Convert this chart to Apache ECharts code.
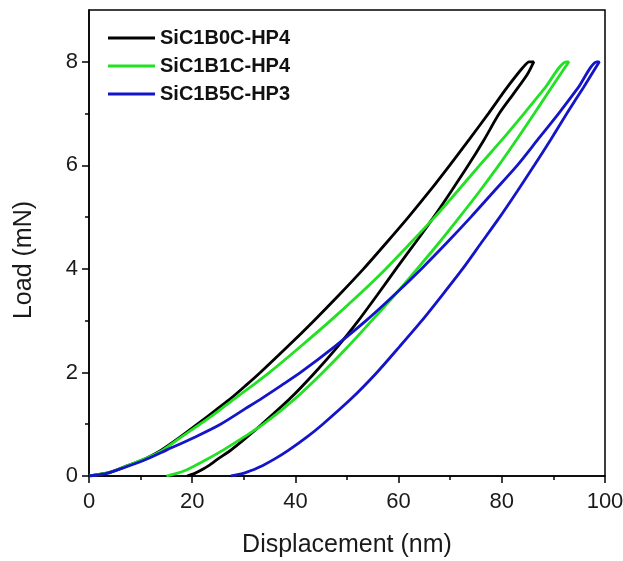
<!DOCTYPE html>
<html>
<head>
<meta charset="utf-8">
<script src="https://cdn.jsdelivr.net/npm/echarts@6/dist/echarts.min.js"></script>
<style>
html,body{margin:0;padding:0;background:#fff;}
#chart{width:623px;height:561px;}
</style>
</head>
<body>
<div id="chart"></div>
<script>
// Series names
const seriesNames = ['SiC1B0C-HP4', 'SiC1B1C-HP4', 'SiC1B5C-HP3'];

// SiC1B0C-HP4 (loading then unloading)
const b0Disp = [0, 4, 7.5, 11, 14, 17.5, 21, 24.5, 27.5, 30.4, 33.2, 38.5, 43.6, 48.5, 53.2, 57.6, 61.9, 66.0, 69.9, 73.7, 77.4, 81.0, 84.0, 85.3,
                86.2, 84.9, 82.4, 79.5, 76.6, 73.5, 70.2, 66.8, 63.2, 59.5, 55.9, 52.2, 48.2, 43.8, 39.0, 33.5, 30.6, 27.5, 25.0, 23.2, 21.5, 20.5, 19.0];
const b0Load = [0, 0.07, 0.2, 0.34, 0.5, 0.74, 1.0, 1.27, 1.5, 1.75, 2.0, 2.5, 3.0, 3.5, 4.0, 4.5, 5.0, 5.5, 6.0, 6.5, 7.0, 7.5, 7.88, 8.0,
                8.0, 7.75, 7.4, 7.0, 6.5, 6.0, 5.5, 5.0, 4.5, 4.0, 3.5, 3.0, 2.5, 2.0, 1.5, 1.0, 0.75, 0.5, 0.33, 0.2, 0.1, 0.05, 0];

// SiC1B1C-HP4
const b1Disp = [0, 4, 7.5, 11, 14.3, 18, 21.5, 25, 28.3, 31.7, 35, 41, 46.8, 52.3, 57.5, 62.3, 67, 71.4, 75.7, 80.1, 84.3, 88.4, 92.5,
                93.0, 89.6, 86.3, 82.9, 79.4, 75.7, 71.8, 67.8, 63.6, 59.3, 54.8, 50.2, 45.3, 40.0, 33.8, 30.0, 26.0, 22.8, 20.5, 18.5, 17.0, 15.0];
const b1Load = [0, 0.07, 0.2, 0.34, 0.5, 0.76, 1.0, 1.25, 1.5, 1.75, 2.0, 2.5, 3.0, 3.5, 4.0, 4.5, 5.0, 5.5, 6.0, 6.5, 7.0, 7.5, 8.0,
                8.0, 7.5, 7.0, 6.5, 6.0, 5.5, 5.0, 4.5, 4.0, 3.5, 3.0, 2.5, 2.0, 1.5, 1.0, 0.75, 0.5, 0.32, 0.2, 0.1, 0.05, 0];

// SiC1B5C-HP3
const b5Disp = [0, 3.5, 7, 11, 15, 20.5, 25.5, 30.3, 33.5, 37.3, 41.0, 47.6, 53.7, 59.2, 64.4, 69.3, 74, 78.5, 83, 87, 91, 94.8, 98.4,
                98.9, 95.8, 92.6, 89.5, 86.3, 83.0, 79.6, 76.0, 72.4, 68.5, 64.5, 60.2, 55.8, 50.9, 45.3, 42.2, 38.7, 36.0, 33.6, 31.3, 29.9, 27.5];
const b5Load = [0, 0.05, 0.17, 0.32, 0.5, 0.75, 1.0, 1.3, 1.5, 1.75, 2.0, 2.5, 3.0, 3.5, 4.0, 4.5, 5.0, 5.5, 6.0, 6.5, 7.0, 7.5, 8.0,
                8.0, 7.5, 7.0, 6.5, 6.0, 5.5, 5.0, 4.5, 4.0, 3.5, 3.0, 2.5, 2.0, 1.5, 1.0, 0.75, 0.5, 0.33, 0.2, 0.1, 0.05, 0];

// Axis tick labels
const xTicks = [0, 20, 40, 60, 80, 100];
const yTicks = [0, 2, 4, 6, 8];
const yMinorTicks = [1, 3, 5, 7];

const colors = ['#000000', '#22e022', '#1414c8'];
const FONT = '"Liberation Sans", Arial, Helvetica, sans-serif';

function pairs(xs, ys) { return xs.map((x, i) => [x, ys[i]]); }
const allData = [pairs(b0Disp, b0Load), pairs(b1Disp, b1Load), pairs(b5Disp, b5Load)];

const chart = echarts.init(document.getElementById('chart'), null, {renderer: 'canvas'});
chart.setOption({
  animation: false,
  backgroundColor: '#ffffff',
  grid: {left: 89, right: 18, top: 10, bottom: 85, containLabel: false, outerBoundsMode: 'none',
         show: true, borderColor: '#000', borderWidth: 1.5, backgroundColor: 'transparent'},
  legend: {
    orient: 'vertical', left: 108, top: 28, padding: 0,
    icon: 'rect', itemWidth: 47, itemHeight: 3, itemGap: 8,
    textStyle: {fontFamily: FONT, fontSize: 20, fontWeight: 'bold', color: '#111'},
    data: seriesNames
  },
  xAxis: {
    type: 'value', min: xTicks[0], max: xTicks[xTicks.length - 1], interval: 20,
    name: 'Displacement (nm)', nameLocation: 'middle', nameGap: 57,
    nameTextStyle: {fontFamily: FONT, fontSize: 25, color: '#1a1a1a'},
    axisLine: {show: true, onZero: false, lineStyle: {color: '#000', width: 1.5}},
    axisTick: {show: true, inside: false, length: 7, lineStyle: {color: '#000', width: 1.5}},
    minorTick: {show: true, splitNumber: 2, length: 4, lineStyle: {color: '#000', width: 1.5}},
    axisLabel: {fontFamily: FONT, fontSize: 22, color: '#1a1a1a', margin: 15},
    splitLine: {show: false}
  },
  yAxis: [{
    type: 'value', min: 0, max: 9, interval: 2,
    name: 'Load (mN)', nameLocation: 'middle', nameGap: 52, nameRotate: 90,
    nameTextStyle: {fontFamily: FONT, fontSize: 25, color: '#1a1a1a', padding: [0, 34, 0, 0]},
    axisLine: {show: true, onZero: false, lineStyle: {color: '#000', width: 1.5}},
    axisTick: {show: true, inside: false, length: 7, customValues: yTicks, lineStyle: {color: '#000', width: 1.5}},
    axisLabel: {fontFamily: FONT, fontSize: 22, color: '#1a1a1a', margin: 11, customValues: yTicks},
    splitLine: {show: false}
  }, {
    type: 'value', min: 0, max: 9, position: 'left', offset: 0,
    axisLine: {show: false},
    axisTick: {show: true, inside: false, length: 4, customValues: yMinorTicks, lineStyle: {color: '#000', width: 1.5}},
    axisLabel: {show: false},
    splitLine: {show: false}
  }],
  series: seriesNames.map((name, i) => ({
    name: name, type: 'line', data: allData[i], symbol: 'none', smooth: 0.25,
    xAxisIndex: 0, yAxisIndex: 0,
    itemStyle: {color: colors[i]},
    lineStyle: {color: colors[i], width: 2.8}
  }))
});
</script>
</body>
</html>
